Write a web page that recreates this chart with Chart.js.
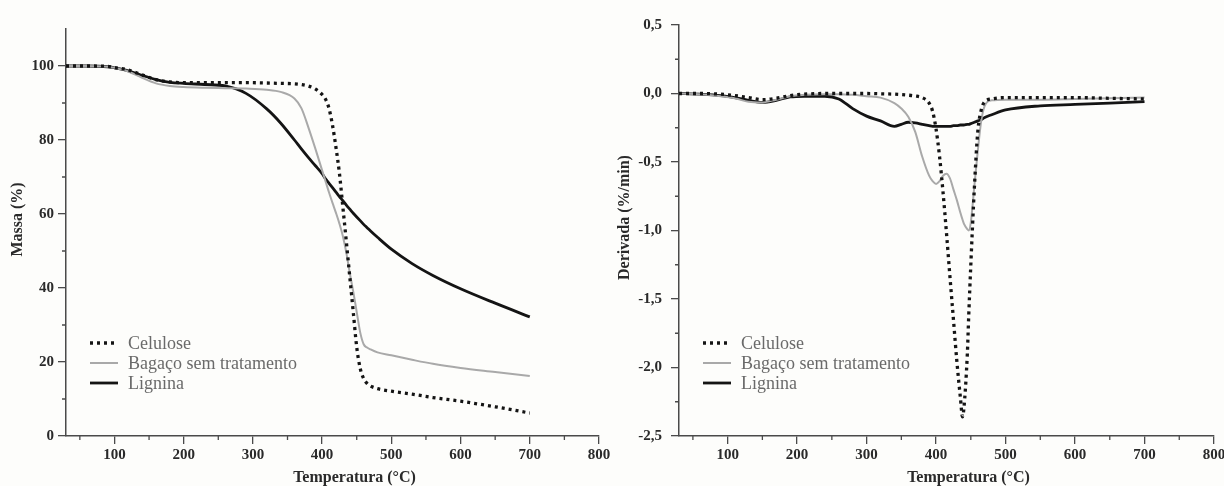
<!DOCTYPE html>
<html lang="pt">
<head>
<meta charset="utf-8">
<title>TG / DTG</title>
<script src="https://cdn.jsdelivr.net/npm/chart.js@4.4.1/dist/chart.umd.min.js"></script>
<style>
  html, body { margin: 0; padding: 0; background: #fdfdfb; overflow: hidden; }
  .panel { position: absolute; top: 0; width: 612px; height: 486px; }
  #tgPanel { left: 0; }
  #dtgPanel { left: 612px; }
</style>
</head>
<body>
<div class="panel" id="tgPanel"><canvas id="tgChart"></canvas></div>
<div class="panel" id="dtgPanel"><canvas id="dtgChart"></canvas></div>
<script>
const seriesNames = ["Celulose", "Bagaço sem tratamento", "Lignina"];

// TG (massa %)
const tgTemp = [30, 60, 90, 100, 120, 140, 160, 180, 200, 230, 260, 290, 320, 340, 360, 370, 380, 390, 400, 405, 410, 415, 420, 425, 430, 435, 440, 445, 450, 455, 460, 465, 470, 480, 500, 530, 560, 600, 650, 700];
const tgCelulose = [100, 100, 99.9, 99.6, 98.9, 97.6, 96.3, 95.7, 95.5, 95.5, 95.5, 95.5, 95.4, 95.3, 95.2, 95.0, 94.6, 93.8, 92.3, 91.0, 88.5, 84.0, 78.0, 71.0, 61.8, 52.5, 43.0, 33.5, 24.0, 18.3, 15.5, 14.2, 13.5, 12.8, 12.1, 11.3, 10.4, 9.4, 7.9, 6.2];
const tgBagaco = [100, 100, 99.8, 99.5, 98.5, 96.8, 95.3, 94.6, 94.3, 94.1, 94.0, 93.9, 93.6, 93.0, 91.2, 88.6, 83.5, 77.8, 71.8, 68.8, 65.8, 63.0, 60.3, 57.4, 54.0, 49.5, 44.0, 39.0, 33.5, 28.0, 24.8, 23.9, 23.4, 22.6, 21.8, 20.6, 19.5, 18.4, 17.3, 16.2];
const tgLignina = [100, 100, 99.8, 99.5, 98.7, 97.5, 96.3, 95.6, 95.3, 95.0, 94.6, 92.6, 88.4, 84.6, 80.0, 77.6, 75.3, 73.1, 70.9, 69.5, 68.3, 67.1, 65.9, 64.7, 63.6, 62.4, 61.3, 60.2, 59.2, 58.2, 57.2, 56.3, 55.4, 53.7, 50.5, 46.6, 43.4, 39.8, 35.9, 32.2];

// DTG (%/min)
const dtgTemp = [30, 60, 90, 110, 130, 150, 170, 190, 210, 240, 260, 280, 300, 320, 340, 350, 360, 370, 380, 390, 395, 400, 405, 410, 415, 420, 425, 430, 435, 438, 440, 445, 447, 450, 455, 460, 465, 470, 480, 500, 550, 600, 650, 700];
const dtgCelulose = [0, 0, -0.005, -0.015, -0.03, -0.045, -0.035, -0.015, -0.005, 0, 0, 0, 0, -0.002, -0.005, -0.008, -0.012, -0.018, -0.03, -0.07, -0.13, -0.26, -0.46, -0.72, -1.02, -1.34, -1.65, -1.96, -2.22, -2.36, -2.3, -1.9, -1.62, -1.25, -0.7, -0.28, -0.12, -0.06, -0.04, -0.03, -0.03, -0.03, -0.035, -0.04];
const dtgBagaco = [0, -0.005, -0.02, -0.035, -0.06, -0.065, -0.045, -0.02, -0.01, -0.005, -0.005, -0.01, -0.02, -0.03, -0.07, -0.11, -0.17, -0.28, -0.46, -0.6, -0.64, -0.66, -0.64, -0.6, -0.585, -0.62, -0.7, -0.78, -0.87, -0.92, -0.95, -0.99, -1.0, -0.94, -0.68, -0.42, -0.2, -0.09, -0.05, -0.045, -0.045, -0.04, -0.035, -0.03];
const dtgLignina = [0, -0.005, -0.015, -0.03, -0.05, -0.065, -0.05, -0.025, -0.02, -0.02, -0.04, -0.11, -0.165, -0.2, -0.24, -0.225, -0.21, -0.215, -0.225, -0.235, -0.24, -0.24, -0.24, -0.24, -0.24, -0.24, -0.235, -0.235, -0.23, -0.23, -0.23, -0.225, -0.225, -0.22, -0.21, -0.2, -0.19, -0.175, -0.155, -0.12, -0.09, -0.08, -0.07, -0.06];

// axis ticks
const tempTicks = [100, 200, 300, 400, 500, 600, 700, 800];
const tempMinor = [50, 150, 250, 350, 450, 550, 650, 750];
const massTicks = [0, 20, 40, 60, 80, 100];
const massMinor = [10, 30, 50, 70, 90];
const derivTicks = [0.5, 0, -0.5, -1, -1.5, -2, -2.5];
const derivMinor = [0.25, -0.25, -0.75, -1.25, -1.75, -2.25];

const serif = "'Liberation Serif', 'Times New Roman', serif";
const axisColor = "#4a4a4a";

function points(xs, ys) {
  return xs.map((x, i) => ({ x, y: ys[i] }));
}

function datasets(xs, cel, bag, lig) {
  const base = { pointRadius: 0, fill: false, cubicInterpolationMode: "monotone" };
  return [
    { ...base, label: seriesNames[0], data: points(xs, cel), borderColor: "#141414", borderWidth: 3.3, borderDash: [3, 4] },
    { ...base, label: seriesNames[1], data: points(xs, bag), borderColor: "#a9a9a9", borderWidth: 2 },
    { ...base, label: seriesNames[2], data: points(xs, lig), borderColor: "#141414", borderWidth: 2.8 },
  ];
}

// minor ticks, axis titles and legend drawn on top
const decorations = {
  id: "decorations",
  afterDraw(chart, args, opts) {
    const { ctx, chartArea, scales } = chart;
    ctx.save();
    ctx.strokeStyle = axisColor;
    ctx.lineWidth = 1.3;
    ctx.beginPath();
    opts.xMinor.forEach((v) => {
      const px = scales.x.getPixelForValue(v);
      ctx.moveTo(px, chartArea.bottom);
      ctx.lineTo(px, chartArea.bottom + 4);
    });
    opts.yMinor.forEach((v) => {
      const py = scales.y.getPixelForValue(v);
      ctx.moveTo(chartArea.left, py);
      ctx.lineTo(chartArea.left - 4, py);
    });
    ctx.stroke();

    ctx.fillStyle = "#2a2a2a";
    ctx.font = `bold 16px ${serif}`;
    ctx.textAlign = "center";
    ctx.textBaseline = "middle";
    ctx.fillText(opts.xTitle, (chartArea.left + chartArea.right) / 2 + 22, 478);
    ctx.save();
    ctx.translate(chartArea.left + opts.yTitleOffset, (chartArea.top + chartArea.bottom) / 2 - 13);
    ctx.rotate(-Math.PI / 2);
    ctx.fillText(opts.yTitle, 0, 0);
    ctx.restore();

    ctx.font = `18px ${serif}`;
    ctx.textAlign = "left";
    chart.data.datasets.forEach((ds, i) => {
      const y = chartArea.bottom - 93 + i * 20;
      const x0 = chartArea.left + 24;
      ctx.strokeStyle = ds.borderColor;
      ctx.lineWidth = ds.borderWidth;
      ctx.setLineDash(ds.borderDash || []);
      ctx.beginPath();
      ctx.moveTo(x0, y);
      ctx.lineTo(x0 + 28, y);
      ctx.stroke();
      ctx.setLineDash([]);
      ctx.fillStyle = "#6a6a6a";
      ctx.fillText(ds.label, x0 + 38, y + 1);
    });
    ctx.restore();
  },
};

function makeChart(id, cfg) {
  return new Chart(document.getElementById(id), {
    type: "line",
    data: { datasets: cfg.datasets },
    plugins: [decorations],
    options: {
      responsive: true,
      maintainAspectRatio: false,
      animation: false,
      events: [],
      layout: { padding: cfg.padding },
      plugins: {
        legend: { display: false },
        tooltip: { enabled: false },
        decorations: cfg.decor,
      },
      scales: {
        x: {
          type: "linear",
          min: 30,
          max: 800,
          afterBuildTicks: (scale) => { scale.ticks = tempTicks.map((v) => ({ value: v })); },
          afterFit: (scale) => { scale.height = 50; scale.paddingLeft = 0; scale.paddingRight = 0; },
          ticks: { color: "#2a2a2a", font: { family: serif, size: 15, weight: "bold" }, padding: 2, maxRotation: 0, autoSkip: false },
          grid: { drawOnChartArea: false, drawTicks: true, tickLength: 8, color: axisColor, lineWidth: 1.3 },
          border: { display: true, color: axisColor, width: 1.5 },
        },
        y: {
          type: "linear",
          min: cfg.yMin,
          max: cfg.yMax,
          afterBuildTicks: (scale) => { scale.ticks = cfg.yTicks.map((v) => ({ value: v })); },
          afterFit: (scale) => { scale.width = cfg.yWidth; scale.paddingTop = 0; scale.paddingBottom = 0; },
          ticks: { color: "#2a2a2a", font: { family: serif, size: 15, weight: "bold" }, padding: cfg.yPad, callback: cfg.yLabel },
          grid: { drawOnChartArea: false, drawTicks: true, tickLength: 8, color: axisColor, lineWidth: 1.3 },
          border: { display: true, color: axisColor, width: 1.5 },
        },
      },
    },
  });
}

makeChart("tgChart", {
  datasets: datasets(tgTemp, tgCelulose, tgBagaco, tgLignina),
  padding: { left: 0, top: 29, right: 13, bottom: 0 },
  yMin: 0,
  yMax: 110,
  yTicks: massTicks,
  yWidth: 66,
  yPad: 4,
  yLabel: (v) => String(v),
  decor: { xMinor: tempMinor, yMinor: massMinor, xTitle: "Temperatura (°C)", yTitle: "Massa (%)", yTitleOffset: -48 },
});

makeChart("dtgChart", {
  datasets: datasets(dtgTemp, dtgCelulose, dtgBagaco, dtgLignina),
  padding: { left: 0, top: 25, right: 10, bottom: 0 },
  yMin: -2.5,
  yMax: 0.5,
  yTicks: derivTicks,
  yWidth: 67,
  yPad: 9,
  yLabel: (v) => Number(v).toFixed(1).replace(".", ","),
  decor: { xMinor: tempMinor, yMinor: derivMinor, xTitle: "Temperatura (°C)", yTitle: "Derivada (%/min)", yTitleOffset: -54 },
});
</script>
</body>
</html>
